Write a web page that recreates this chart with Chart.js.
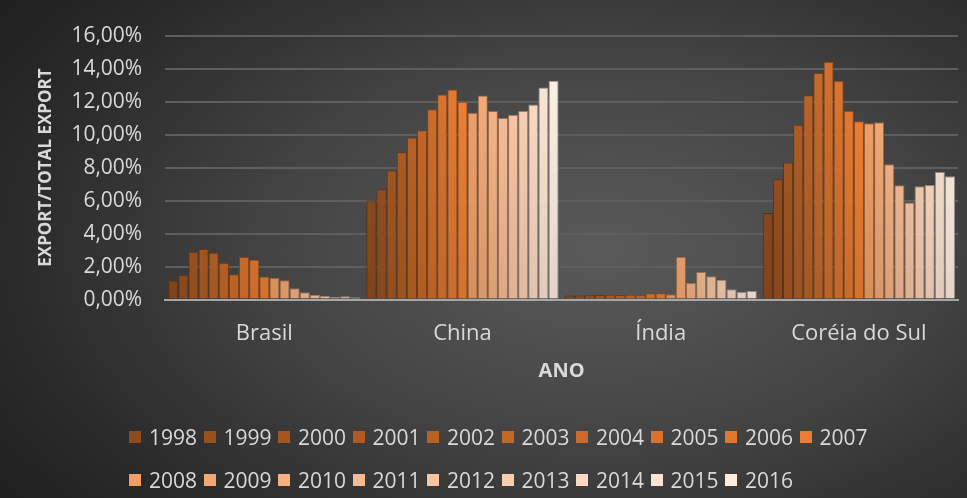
<!DOCTYPE html>
<html>
<head>
<meta charset="utf-8">
<script src="https://cdn.jsdelivr.net/npm/chart.js@4/dist/chart.umd.min.js"></script>
<style>
    html, body { margin: 0; padding: 0; }
    body { width: 967px; height: 498px; overflow: hidden; }
    .wrap {
        position: relative;
        width: 967px;
        height: 498px;
        background: radial-gradient(ellipse 75% 85% at 62% 50%, #5a5a5a 0%, #444 45%, #2b2b2b 80%, #202020 100%);
    }
    #exportChart { position: absolute; left: 0; top: 0; }
    #legend {
        position: absolute;
        left: 129px;
        top: 423px;
        display: grid;
        grid-template-columns: repeat(10, 74.5px);
        row-gap: 15px;
        font-family: "Open Sans", sans-serif;
        font-size: 21px;
        color: #d9d9d9;
        line-height: 28px;
    }
    #legend span.item { display: flex; align-items: center; white-space: nowrap; }
    #legend i { display: inline-block; width: 12px; height: 12px; margin-right: 8px; }
</style>
</head>
<body>
<div class="wrap">
    <canvas id="exportChart" width="967" height="498"></canvas>
    <div id="legend"></div>
</div>
<script>
(function () {
    const countries = ['Brasil', 'China', 'Índia', 'Coréia do Sul'];
    const years = ['1998', '1999', '2000', '2001', '2002', '2003', '2004', '2005', '2006', '2007',
        '2008', '2009', '2010', '2011', '2012', '2013', '2014', '2015', '2016'];

    // share of total exports (%), one value per year
    const brasil = [1.16, 1.50, 2.90, 3.06, 2.84, 2.22, 1.53, 2.58, 2.42, 1.40,
        1.32, 1.18, 0.69, 0.44, 0.30, 0.22, 0.16, 0.20, 0.14];
    const china = [6.01, 6.69, 7.83, 8.93, 9.83, 10.27, 11.53, 12.43, 12.73, 11.99,
        11.33, 12.37, 11.43, 11.01, 11.21, 11.43, 11.83, 12.85, 13.27];
    const india = [0.25, 0.25, 0.27, 0.28, 0.30, 0.28, 0.30, 0.26, 0.38, 0.38,
        0.33, 2.60, 1.02, 1.68, 1.41, 1.20, 0.62, 0.46, 0.52];
    const coreia = [5.25, 7.29, 8.31, 10.59, 12.39, 13.73, 14.41, 13.27, 11.45, 10.81,
        10.69, 10.75, 8.21, 6.93, 5.89, 6.87, 6.95, 7.73, 7.47];

    const yTicks = [0, 2, 4, 6, 8, 10, 12, 14, 16];

    const series = [brasil, china, india, coreia];

    // orange monochrome: shades up to 2007, tints after
    const base = [237, 125, 49];
    const colorFor = (i, k) => {
        let c;
        if (i <= 9) {
            const f = 0.6 + 0.4 * i / 9;
            c = base.map(v => v * f);
        } else {
            const t = 0.25 + (i - 10) * 0.075;
            c = base.map(v => v + (255 - v) * t);
        }
        k = k || 1;
        c = c.map(v => Math.max(0, Math.min(255, Math.round(v * k))));
        return 'rgb(' + c.join(',') + ')';
    };

    const datasets = years.map((year, i) => ({
        label: year,
        data: series.map(s => s[i]),
        flatColor: colorFor(i),
        backgroundColor: (ctx) => {
            const area = ctx.chart.chartArea;
            if (!area) return colorFor(i);
            const g = ctx.chart.ctx.createLinearGradient(0, area.top, 0, area.bottom);
            g.addColorStop(0, colorFor(i, 1.04));
            g.addColorStop(1, colorFor(i, 0.9));
            return g;
        },
        borderColor: colorFor(i, 0.6),
        borderWidth: 1,
        categoryPercentage: 0.97,
        barPercentage: 1.0,
    }));

    const fmt = (v) => v.toFixed(2).replace('.', ',') + '%';

    const chart = new Chart(document.getElementById('exportChart'), {
        type: 'bar',
        data: { labels: countries, datasets: datasets },
        options: {
            responsive: false,
            animation: false,
            layout: { padding: { left: 36, right: 9, top: 26, bottom: 115 } },
            plugins: {
                legend: { display: false },
                tooltip: { enabled: false },
            },
            scales: {
                x: {
                    grid: { display: false, drawTicks: false },
                    border: { display: true, color: '#a6a6a6', width: 2 },
                    ticks: {
                        color: '#d9d9d9',
                        padding: 21,
                        font: { family: 'Open Sans', size: 22 },
                    },
                    title: {
                        display: true,
                        text: 'ANO',
                        color: '#d9d9d9',
                        padding: { top: -9, bottom: 0 },
                        font: { family: 'Open Sans', size: 20, weight: 'bold' },
                    },
                },
                y: {
                    min: 0,
                    max: 16,
                    afterBuildTicks: (axis) => {
                        axis.ticks = yTicks.map(v => ({ value: v }));
                    },
                    grid: { color: '#5e5e5e', lineWidth: 2, drawTicks: false },
                    border: { display: false },
                    ticks: {
                        color: '#d9d9d9',
                        padding: 23,
                        font: { family: 'Open Sans', size: 21 },
                        callback: (v) => fmt(v),
                    },
                    title: {
                        display: true,
                        text: 'EXPORT/TOTAL EXPORT',
                        color: '#d9d9d9',
                        padding: { top: 0, bottom: -8 },
                        font: { family: 'Open Sans', size: 17, weight: 'bold' },
                    },
                },
            },
        },
    });

    const legendEl = document.getElementById('legend');
    chart.data.datasets.forEach((ds) => {
        const item = document.createElement('span');
        item.className = 'item';
        const box = document.createElement('i');
        box.style.background = ds.flatColor;
        item.appendChild(box);
        item.appendChild(document.createTextNode(ds.label));
        legendEl.appendChild(item);
    });
})();
</script>
</body>
</html>
